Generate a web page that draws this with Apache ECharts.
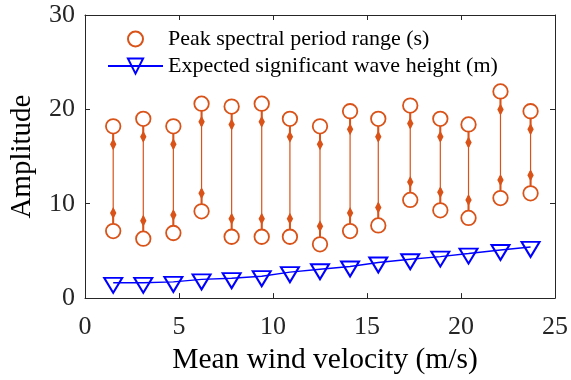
<!DOCTYPE html>
<html>
<head>
<meta charset="utf-8">
<script src="https://cdn.jsdelivr.net/npm/echarts@6/dist/echarts.min.js"></script>
<style>
  html, body { margin: 0; padding: 0; background: #fff; }
  #chart { width: 571px; height: 380px; }
</style>
</head>
<body>
<div id="chart"></div>
<script>
var windSpeed = [1.5, 3.1, 4.7, 6.2, 7.8, 9.4, 10.9, 12.5, 14.1, 15.6, 17.3, 18.9, 20.4, 22.1, 23.7];
var periodHigh = [18.2, 19.0, 18.2, 20.6, 20.3, 20.6, 19.0, 18.2, 19.8, 19.0, 20.4, 19.0, 18.4, 21.9, 19.8];
var periodLow = [7.1, 6.3, 6.9, 9.2, 6.5, 6.5, 6.5, 5.7, 7.1, 7.7, 10.4, 9.3, 8.5, 10.6, 11.1];
var waveHeight = [1.62, 1.62, 1.72, 1.98, 2.11, 2.32, 2.75, 3.06, 3.35, 3.77, 4.12, 4.40, 4.72, 5.10, 5.42];
var xTicks = [0, 5, 10, 15, 20, 25];
var yTicks = [0, 10, 20, 30];

var orange = "#D95319";
var blue = "#0000FF";
var axisColor = "#262626";
var serif = "Liberation Serif";

var circlePts = [];
var stemData = [];
var linePts = [];
for (var i = 0; i < windSpeed.length; i++) {
  circlePts.push([windSpeed[i], periodHigh[i]]);
  circlePts.push([windSpeed[i], periodLow[i]]);
  stemData.push([windSpeed[i], periodLow[i], periodHigh[i]]);
  linePts.push([windSpeed[i], waveHeight[i]]);
}

// stem between the two circles, with a small diamond near each end
function renderStem(params, api) {
  var x = api.value(0);
  var lo = api.coord([x, api.value(1)]);
  var hi = api.coord([x, api.value(2)]);
  var r = 7, d = 18;
  function diamond(cy) {
    return {
      type: "polygon",
      shape: { points: [[lo[0], cy - 6], [lo[0] + 3.2, cy], [lo[0], cy + 6], [lo[0] - 3.2, cy]] },
      style: { fill: orange }
    };
  }
  return {
    type: "group",
    children: [
      { type: "line", shape: { x1: lo[0], y1: lo[1] - r, x2: hi[0], y2: hi[1] + r }, style: { stroke: orange, lineWidth: 1.2 } },
      { type: "line", shape: { x1: hi[0], y1: hi[1] + r, x2: hi[0], y2: hi[1] + d + 4 }, style: { stroke: orange, lineWidth: 2 } },
      { type: "line", shape: { x1: lo[0], y1: lo[1] - r, x2: lo[0], y2: lo[1] - d - 4 }, style: { stroke: orange, lineWidth: 2 } },
      diamond(hi[1] + d),
      diamond(lo[1] - d)
    ]
  };
}

var myChart = echarts.init(document.getElementById("chart"), null, { renderer: "canvas" });

var boxAxis = {
  axisLine: { show: true, onZero: false, lineStyle: { color: axisColor, width: 1 } },
  axisTick: { show: true, inside: true, length: 5, lineStyle: { color: axisColor } },
  splitLine: { show: false }
};

myChart.setOption({
  animation: false,
  backgroundColor: "#fff",
  grid: { left: 85, right: 14, top: 15, bottom: 81, containLabel: false },
  legend: [
    {
      // circle icon only covers the middle of itemWidth, so shift by the empty part
      left: 127, top: 28, padding: 0,
      itemWidth: 55, itemHeight: 15,
      data: [{ name: "Peak spectral period range (s)", icon: "circle" }],
      textStyle: { fontFamily: serif, fontSize: 22, color: "#000" }
    },
    {
      left: 107, top: 55, padding: 0,
      itemWidth: 55, itemHeight: 19,
      data: ["Expected significant wave height (m)"],
      textStyle: { fontFamily: serif, fontSize: 22, color: "#000" }
    }
  ],
  xAxis: [
    Object.assign({}, boxAxis, {
      type: "value", position: "bottom",
      min: xTicks[0], max: xTicks[xTicks.length - 1], interval: 5,
      name: "Mean wind velocity (m/s)", nameLocation: "middle", nameGap: 45,
      nameTextStyle: { fontFamily: serif, fontSize: 29.5, color: "#000", padding: [0, 0, 0, 10] },
      axisLabel: { fontFamily: serif, fontSize: 26, color: axisColor, margin: 16 }
    }),
    Object.assign({}, boxAxis, {
      type: "value", position: "top",
      min: xTicks[0], max: xTicks[xTicks.length - 1], interval: 5,
      axisLabel: { show: false }
    })
  ],
  yAxis: [
    Object.assign({}, boxAxis, {
      type: "value", position: "left",
      min: yTicks[0], max: yTicks[yTicks.length - 1], interval: 10,
      name: "Amplitude", nameLocation: "middle", nameGap: 48,
      nameTextStyle: { fontFamily: serif, fontSize: 29, color: "#000" },
      axisLabel: { fontFamily: serif, fontSize: 26, color: axisColor, margin: 10 }
    }),
    Object.assign({}, boxAxis, {
      type: "value", position: "right",
      min: yTicks[0], max: yTicks[yTicks.length - 1], interval: 10,
      axisLabel: { show: false }
    })
  ],
  series: [
    {
      name: "stems",
      type: "custom",
      renderItem: renderStem,
      encode: { x: 0, y: [1, 2] },
      data: stemData,
      z: 2,
      silent: true
    },
    {
      name: "Peak spectral period range (s)",
      type: "scatter",
      symbol: "circle",
      symbolSize: 14.5,
      itemStyle: { color: "#fff", borderColor: orange, borderWidth: 1.8, opacity: 1 },
      data: circlePts,
      z: 3
    },
    {
      name: "Expected significant wave height (m)",
      type: "line",
      symbol: "path://M0,0L18,0L9,15Z",
      symbolSize: [18, 15],
      symbolOffset: [0, 2.5],
      showAllSymbol: true,
      lineStyle: { color: blue, width: 1.4 },
      itemStyle: { color: "transparent", borderColor: blue, borderWidth: 2 },
      data: linePts,
      z: 4
    }
  ]
});

window.addEventListener("resize", function () {
  myChart.resize();
});
</script>
</body>
</html>
